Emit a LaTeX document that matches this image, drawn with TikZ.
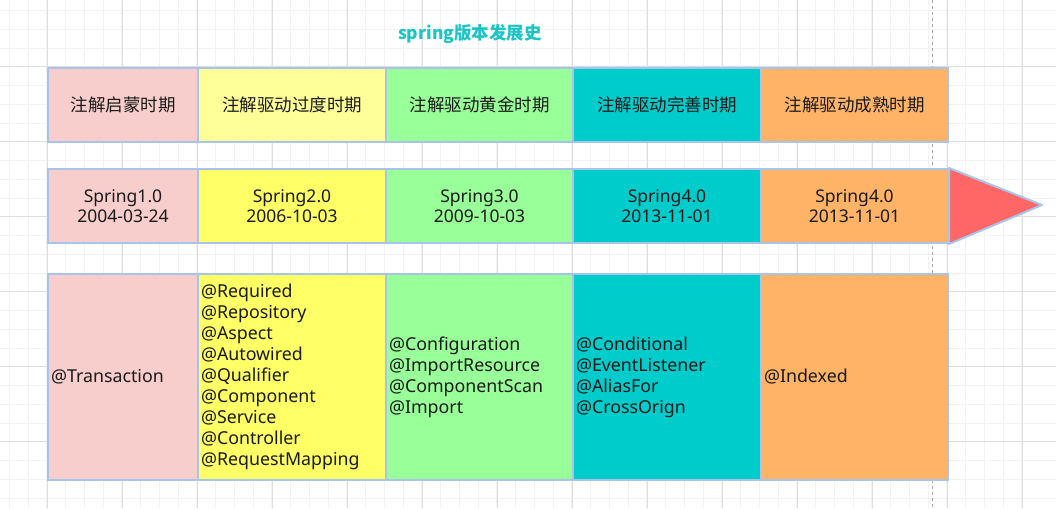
\documentclass[tikz,border=0pt]{standalone}
\usepackage{fontspec}
\setmainfont{Noto Sans CJK SC}
\newfontfamily\latinfont{Noto Sans}
\definecolor{gminor}{HTML}{F2F2F2}
\definecolor{gmajor}{HTML}{DEDEDE}
\definecolor{bord}{HTML}{A9C4EB}
\definecolor{cpink}{HTML}{F8CECC}
\definecolor{clyel}{HTML}{FFFF99}
\definecolor{cyel}{HTML}{FFFF66}
\definecolor{cgreen}{HTML}{99FF99}
\definecolor{cteal}{HTML}{00CCCC}
\definecolor{corange}{HTML}{FFB366}
\definecolor{cred}{HTML}{FF6666}
\definecolor{ctitle}{HTML}{1BC5C5}
\definecolor{ctext}{HTML}{1A1A1A}
\tikzset{
  cell/.style={draw=bord, line width=2pt, anchor=north west, inner sep=0pt, text=ctext,
    font=\fontsize{17.5}{20.5}\selectfont, align=center},
  vcell/.style={cell, font=\latinfont\fontsize{17.5}{20.5}\selectfont},
  lcell/.style={cell, align=left, inner xsep=3pt, font=\latinfont\fontsize{17.8}{21}\selectfont},
}
\begin{document}
\begin{tikzpicture}[x=1pt,y=-1pt]
\useasboundingbox (0,0) rectangle (1056,508);
\fill[white] (0,0) rectangle (1056,508);
% grid
\foreach \i in {0,...,56} {
  \draw[gminor, line width=0.8pt] ({-28.25+18.75*\i},0) -- ({-28.25+18.75*\i},508);
}
\foreach \i in {0,...,28} {
  \draw[gminor, line width=0.8pt] (0,{-8.3+18.75*\i}) -- (1056,{-8.3+18.75*\i});
}
\foreach \i in {0,...,14} {
  \draw[gmajor, line width=0.8pt] ({-28+75*\i},0) -- ({-28+75*\i},508);
}
\foreach \i in {0,...,7} {
  \draw[gmajor, line width=0.8pt] (0,{-8.3+75*\i}) -- (1056,{-8.3+75*\i});
}
\draw[gray!70, dashed, line width=0.8pt] (932,0) -- (932,508);
% title
\node[text=ctitle, font=\fontsize{17.5}{19}\selectfont\bfseries] (title) at (470,34) {spring版本发展史};
% top row
\node[cell, fill=cpink,  minimum width=150, minimum height=74] (t1) at (47,67) {注解启蒙时期};
\node[cell, fill=clyel,  minimum width=188, minimum height=74] (t2) at (197,67) {注解驱动过度时期};
\node[cell, fill=cgreen, minimum width=187, minimum height=74] (t3) at (385,67) {注解驱动黄金时期};
\node[cell, fill=cteal,  minimum width=188, minimum height=74] (t4) at (572,67) {注解驱动完善时期};
\node[cell, fill=corange,minimum width=187, minimum height=74] (t5) at (760,67) {注解驱动成熟时期};
% version row
\node[vcell, fill=cpink,  minimum width=150, minimum height=74] (v1) at (47,168) {Spring1.0\\2004-03-24};
\node[vcell, fill=cyel,   minimum width=188, minimum height=74] (v2) at (197,168) {Spring2.0\\2006-10-03};
\node[vcell, fill=cgreen, minimum width=187, minimum height=74] (v3) at (385,168) {Spring3.0\\2009-10-03};
\node[vcell, fill=cteal,  minimum width=188, minimum height=74] (v4) at (572,168) {Spring4.0\\2013-11-01};
\node[vcell, fill=corange,minimum width=187, minimum height=74] (v5) at (760,168) {Spring4.0\\2013-11-01};
\coordinate (tip) at (1042,205);
\draw[draw=bord, fill=cred, line width=2pt, line join=round] (v5.north east) -- (tip) -- (v5.south east) -- cycle;
% annotation row
\node[lcell, fill=cpink,  text width=144, minimum height=206] (a1) at (47,273) {@Transaction};
\node[lcell, fill=cyel,   text width=182, minimum height=206] (a2) at (197,273) {@Required\\@Repository\\@Aspect\\@Autowired\\@Qualifier\\@Component\\@Service\\@Controller\\@RequestMapping};
\node[lcell, fill=cgreen, text width=181, minimum height=206] (a3) at (385,273) {@Configuration\\@ImportResource\\@ComponentScan\\@Import};
\node[lcell, fill=cteal,  text width=182, minimum height=206] (a4) at (572,273) {@Conditional\\@EventListener\\@AliasFor\\@CrossOrign};
\node[lcell, fill=corange,text width=181, minimum height=206] (a5) at (760,273) {@Indexed};
\end{tikzpicture}
\end{document}
